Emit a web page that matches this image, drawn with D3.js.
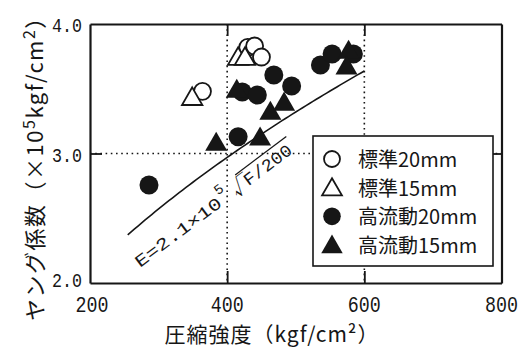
<!DOCTYPE html>
<html>
<head>
<meta charset="utf-8">
<script src="https://cdn.jsdelivr.net/npm/d3@7/dist/d3.min.js"></script>
<style>
  html, body { margin: 0; padding: 0; background: #fff; }
  svg { display: block; }
  text { fill: #161616; }
</style>
</head>
<body>
<div id="chart"></div>
<script>
// Compressive strength F (kgf/cm2) and Young's modulus E (x10^5 kgf/cm2)
const std20F = [364, 430, 440, 450];
const std20E = [3.48, 3.82, 3.83, 3.745];
const std15F = [349, 416, 426];
const std15E = [3.42, 3.73, 3.73];
const flow20F = [286, 416, 422, 444, 468, 494, 536, 553, 584];
const flow20E = [2.757, 3.13, 3.475, 3.452, 3.606, 3.521, 3.683, 3.768, 3.768];
const flow15F = [384, 448, 414, 463, 483, 577, 574];
const flow15E = [3.07, 3.11, 3.48, 3.31, 3.38, 3.78, 3.66];

const xTicks = [200, 400, 600, 800];
const yTicks = [2.0, 3.0, 4.0];
const xGrid = [400, 600];
const yGrid = [3.0];

// Reference relation E = 2.1x10^5 * sqrt(F/200)
const refCoef = 2.1, refBase = 200;
const refRange = [255, 600];

const legendItems = [
  { label: "標準20mm", shape: "circle", filled: false },
  { label: "標準15mm", shape: "triangle", filled: false },
  { label: "高流動20mm", shape: "circle", filled: true },
  { label: "高流動15mm", shape: "triangle", filled: true }
];

const W = 526, H = 350;
const L = 90, R = 501.5, T = 24, B = 283;
const ink = "#161616";
const mono = "'Liberation Mono', 'DejaVu Sans Mono', monospace";
const cjk = "'Noto Sans CJK JP', 'Noto Sans', sans-serif";

const svg = d3.select("#chart").append("svg").attr("width", W).attr("height", H);

const x = d3.scaleLinear().domain([200, 800]).range([L, R]);
const y = d3.scaleLinear().domain([2, 4]).range([B, T]);

// dotted grid
const grid = svg.append("g").attr("stroke", ink).attr("stroke-width", 1.6)
  .attr("stroke-dasharray", "1.6,3.6");
grid.selectAll("line.gx").data(xGrid).join("line").attr("class", "gx")
  .attr("x1", d => x(d)).attr("x2", d => x(d)).attr("y1", T).attr("y2", B);
grid.selectAll("line.gy").data(yGrid).join("line").attr("class", "gy")
  .attr("x1", L).attr("x2", R).attr("y1", d => y(d)).attr("y2", d => y(d));

// frame with inward ticks on all four sides
const tickLen = 12;
const axB = d3.axisBottom(x).tickValues(xTicks.slice(1, -1)).tickSizeInner(-tickLen).tickSizeOuter(0).tickFormat("");
const axT = d3.axisTop(x).tickValues(xTicks.slice(1, -1)).tickSizeInner(-tickLen).tickSizeOuter(0).tickFormat("");
const axL = d3.axisLeft(y).tickValues(yTicks.slice(1, -1)).tickSizeInner(-tickLen).tickSizeOuter(0).tickFormat("");
const axR = d3.axisRight(y).tickValues(yTicks.slice(1, -1)).tickSizeInner(-tickLen).tickSizeOuter(0).tickFormat("");
[[axB, `translate(0,${B})`], [axT, `translate(0,${T})`], [axL, `translate(${L},0)`], [axR, `translate(${R},0)`]]
  .forEach(([ax, tr]) => {
    const g = svg.append("g").attr("transform", tr).call(ax);
    g.selectAll("path.domain").attr("stroke", ink).attr("stroke-width", 2.2);
    g.selectAll(".tick line").attr("stroke", ink).attr("stroke-width", 1.8);
  });

// tick labels
svg.append("g").selectAll("text").data(xTicks).join("text")
  .attr("x", d => x(d) + (d === 200 ? 2 : 0)).attr("y", 312)
  .attr("text-anchor", "middle")
  .attr("font-family", mono).attr("font-size", 22)
  .attr("textLength", 33).attr("lengthAdjust", "spacingAndGlyphs")
  .text(d => d);
svg.append("g").selectAll("text").data(yTicks).join("text")
  .attr("x", 82).attr("y", d => y(d) + (d === 2 ? 4 : 8))
  .attr("text-anchor", "end")
  .attr("font-family", mono).attr("font-size", 21)
  .attr("textLength", 30).attr("lengthAdjust", "spacingAndGlyphs")
  .text(d => d3.format(".1f")(d));

// axis titles
svg.append("text").attr("x", 272).attr("y", 342).attr("text-anchor", "middle")
  .attr("font-family", cjk).attr("font-size", 21).attr("letter-spacing", 1)
  .text("圧縮強度（kgf/cm²）");

const yt = svg.append("text")
  .attr("transform", "translate(43,163) rotate(-90)")
  .attr("text-anchor", "middle")
  .attr("font-family", cjk).attr("font-size", 22).attr("letter-spacing", 1.5);
yt.append("tspan").text("ヤング係数（×10");
yt.append("tspan").attr("dy", -8).attr("font-size", 16).text("5");
yt.append("tspan").attr("dy", 8).text("kgf/cm");
yt.append("tspan").attr("dy", -8).attr("font-size", 16).text("2");
yt.append("tspan").attr("dy", 8).text("）");

// reference curve
const refF = d3.range(refRange[0], refRange[1] + 0.1, 5);
svg.append("path")
  .datum(refF)
  .attr("fill", "none").attr("stroke", ink).attr("stroke-width", 1.6)
  .attr("d", d3.line().x(f => x(f)).y(f => y(refCoef * Math.sqrt(f / refBase))));

// reference formula label, set along the curve
const lab = svg.append("g").attr("transform", "translate(140,268) rotate(-37)");
lab.append("text").attr("x", 0).attr("y", 0)
  .attr("font-family", mono).attr("font-size", 17)
  .attr("textLength", 104).attr("lengthAdjust", "spacingAndGlyphs")
  .text("E=2.1×10");
lab.append("text").attr("x", 106).attr("y", -11)
  .attr("font-family", mono).attr("font-size", 14).text("5");
lab.append("text").attr("x", 120).attr("y", 2)
  .attr("font-family", cjk).attr("font-size", 20).text("√");
lab.append("line").attr("x1", 132).attr("x2", 196).attr("y1", -17).attr("y2", -17)
  .attr("stroke", ink).attr("stroke-width", 1.3);
lab.append("text").attr("x", 136).attr("y", 0)
  .attr("font-family", mono).attr("font-size", 17)
  .attr("textLength", 56).attr("lengthAdjust", "spacingAndGlyphs")
  .text("F/200");

// data marks
const triSize = 180, r = 9.5;
const plot = svg.append("g");
function circles(F, E, filled) {
  plot.append("g").selectAll("circle").data(F.map((f, i) => [f, E[i]])).join("circle")
    .attr("cx", d => x(d[0])).attr("cy", d => y(d[1])).attr("r", filled ? r : r - 1)
    .attr("fill", filled ? ink : "#fff").attr("stroke", ink).attr("stroke-width", filled ? 0 : 1.8);
}
function triangles(F, E, filled) {
  plot.append("g").selectAll("path").data(F.map((f, i) => [f, E[i]])).join("path")
    .attr("transform", d => `translate(${x(d[0])},${y(d[1])})`)
    .attr("d", d3.symbol(d3.symbolTriangle, filled ? triSize + 30 : triSize)())
    .attr("fill", filled ? ink : "#fff").attr("stroke", ink).attr("stroke-width", filled ? 0 : 1.8);
}
circles(std20F, std20E, false);
triangles(std15F, std15E, false);
circles(flow20F, flow20E, true);
triangles(flow15F, flow15E, true);

// legend
const lg = svg.append("g");
lg.append("rect").attr("x", 313).attr("y", 136).attr("width", 180).attr("height", 130)
  .attr("fill", "#fff").attr("stroke", ink).attr("stroke-width", 1.6);
const rowY = d3.scalePoint().domain(legendItems.map(d => d.label)).range([159, 245]);
legendItems.forEach(it => {
  const cy = rowY(it.label);
  if (it.shape === "circle") {
    lg.append("circle").attr("cx", 332).attr("cy", cy).attr("r", it.filled ? 8.8 : 8)
      .attr("fill", it.filled ? ink : "#fff").attr("stroke", ink).attr("stroke-width", it.filled ? 0 : 1.8);
  } else {
    lg.append("path").attr("transform", `translate(332,${cy + 2})`)
      .attr("d", d3.symbol(d3.symbolTriangle, it.filled ? 200 : 170)())
      .attr("fill", it.filled ? ink : "#fff").attr("stroke", ink).attr("stroke-width", it.filled ? 0 : 1.8);
  }
  lg.append("text").attr("x", 358).attr("y", cy + 8)
    .attr("font-family", cjk).attr("font-size", 20).text(it.label);
});
</script>
</body>
</html>
